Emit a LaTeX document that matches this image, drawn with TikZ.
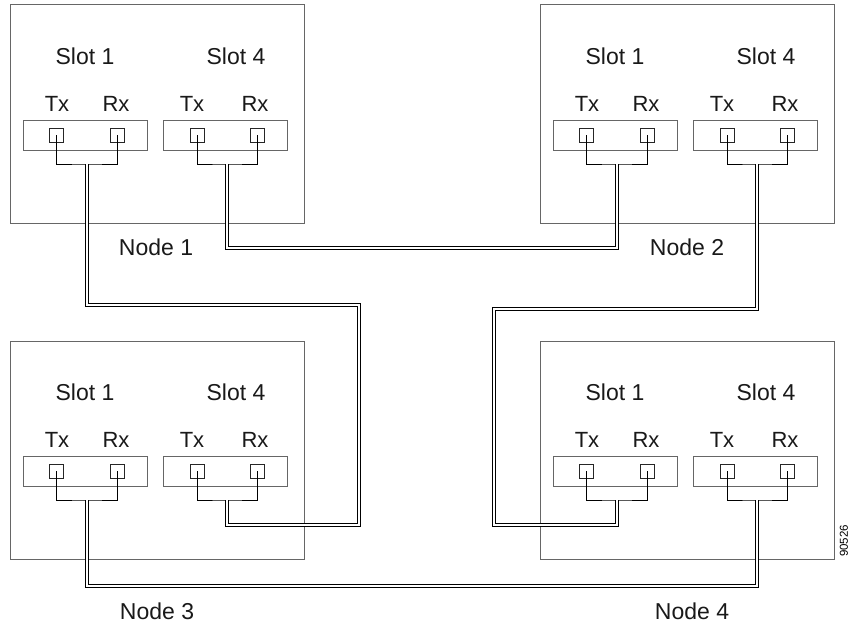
\documentclass[tikz,border=0pt]{standalone}
\usepackage{fontspec}
\setmainfont{Liberation Sans}

\begin{document}
\begin{tikzpicture}[x=1pt,y=-1pt]
\tikzset{
  nodebox/.style={rectangle,draw=black!60,line width=1pt,minimum width=294pt,minimum height=218pt,inner sep=0pt},
  slotcard/.style={rectangle,draw=black!60,line width=1pt,minimum width=124pt,minimum height=30pt,inner sep=0pt},
  portbox/.style={rectangle,draw=black!85,line width=0.8pt,minimum size=14pt,inner sep=0pt},
  slotlabel/.style={font=\fontsize{23}{26}\selectfont,text=black!90,inner sep=0pt},
  portlabel/.style={font=\fontsize{22}{25}\selectfont,text=black!90,inner sep=0pt},
  wire/.style={draw=black,line width=1pt,line join=miter},
  cable/.style={draw=black,line width=1pt,double=white,double distance=2pt}
}
\useasboundingbox (0,0) rectangle (852,626);
% four nodes, each with slot 1 and slot 4
\foreach \n/\ox/\oy in {1/0/0,2/530/0,3/0/336,4/530/336}{
  \begin{scope}[shift={(\ox,\oy)}]
    \node[nodebox] (n_N\n) at (157,114) {};
    \foreach \s/\cx/\lx/\tx/\rx/\ptx/\prx/\jx in {1/85/85/57/116/56/117/87,4/225/236/192/255/197/257/227}{
      \node[slotlabel] (n_N\n s\s) at (\lx,56) {Slot \s};
      \node[portlabel] (n_N\n s\s tl) at (\tx,104) {Tx};
      \node[portlabel] (n_N\n s\s rl) at (\rx,104) {Rx};
      \node[slotcard] (n_N\n s\s card) at (\cx,135) {};
      \node[portbox] (n_N\n s\s tx) at (\ptx,135) {};
      \node[portbox] (n_N\n s\s rx) at (\prx,135) {};
      \coordinate (j_N\n s\s) at (\jx,164);
      \draw[wire] (n_N\n s\s tx.center) |- (j_N\n s\s) -| (n_N\n s\s rx.center);
    }
  \end{scope}
}
\node[slotlabel] (n_lab1) at (156,247) {Node 1};
\node[slotlabel] (n_lab2) at (687,247) {Node 2};
\node[slotlabel] (n_lab3) at (157,611) {Node 3};
\node[slotlabel] (n_lab4) at (692,611) {Node 4};
\node[font=\fontsize{11.5}{13}\selectfont,rotate=90,inner sep=0pt] (n_fig) at (844,541) {90526};
% fibre runs
\coordinate (k_12) at (617,248);
\coordinate (k_13a) at (359,305);
\coordinate (k_13b) at (359,525);
\coordinate (k_24a) at (494,309);
\coordinate (k_24b) at (494,525);
\coordinate (k_34) at (757,586);
\draw[cable] (j_N1s4) |- (k_12) -- (j_N2s1);
\draw[cable] (j_N1s1) |- (k_13a) -- (k_13b) -| (j_N3s4);
\draw[cable] (j_N2s4) |- (k_24a) -- (k_24b) -| (j_N4s1);
\draw[cable] (j_N3s1) |- (k_34) -- (j_N4s4);
\end{tikzpicture}
\end{document}
